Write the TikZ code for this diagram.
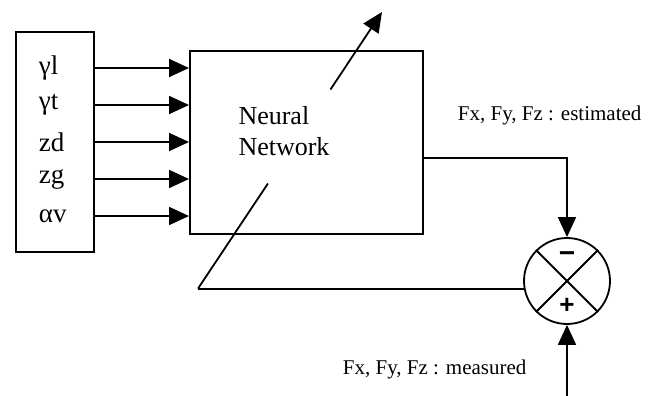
\documentclass[tikz,border=0pt]{standalone}
\usepackage{fontspec}
\setmainfont{Liberation Serif}
\newfontfamily\signfont{Liberation Sans}
\usetikzlibrary{arrows.meta,calc}

\begin{document}
\begin{tikzpicture}[x=1pt, y=-1pt, line width=1.8pt,
    tip/.style={-{Triangle[length=20pt,width=18pt]}},
    inlabel/.style={anchor=west, inner sep=0pt, font=\fontsize{27}{30}\selectfont},
    outlabel/.style={anchor=west, inner sep=0pt, font=\fontsize{21}{24}\selectfont}]
    \useasboundingbox (0,0) rectangle (654,396);

    % Input box and network box
    \node[draw, minimum width=78, minimum height=220, anchor=north west] (in) at (15,31) {};
    \node[draw, minimum width=233, minimum height=183, anchor=north west] (nn) at (189,50) {};
    \node[align=left, inner sep=0pt, font=\fontsize{26}{31}\selectfont] (nntext) at (284,131) {Neural\\Network};

    % Inputs
    \foreach \name/\txt/\y in {gl/γl/68, gt/γt/105, zd/zd/142, zg/zg/179, av/αv/216} {
        \node[inlabel] (\name) at (38,\y) {\txt};
        \draw[tip] (in.east |- \name) -- (nn.west |- \name);
    }

    % Summing junction
    \node[draw, circle, minimum size=86, inner sep=0pt] (sum) at (567,281) {};
    \draw (sum.north west) -- (sum.south east);
    \draw (sum.north east) -- (sum.south west);
    \node[inner sep=0pt, font=\signfont\bfseries\fontsize{28}{30}\selectfont] (minus) at (567,257) {−};
    \node[inner sep=0pt, font=\signfont\bfseries\fontsize{26}{28}\selectfont] (plus) at (567,306) {+};

    % Estimated output
    \coordinate (out) at ($(nn.north east)+(0,108)$);
    \draw[tip] (out) -| (sum.north);
    \node[outlabel] (est) at (457,115) {Fx, Fy, Fz : estimated};

    % Measured input
    \coordinate (meas) at ($(sum.south)+(0,73)$);
    \draw[tip] (meas) -- (sum.south);
    \node[outlabel] (mes) at (342,369) {Fx, Fy, Fz : measured};

    % Error feedback and weight update
    \draw (sum.190) -- (198,0 |- sum.190) coordinate (fb);
    \coordinate (adapt) at (382,12);
    \draw (fb) -- ($(fb)!0.38!(adapt)$);
    \draw[tip] ($(fb)!0.72!(adapt)$) -- (adapt);

\end{tikzpicture}
\end{document}
